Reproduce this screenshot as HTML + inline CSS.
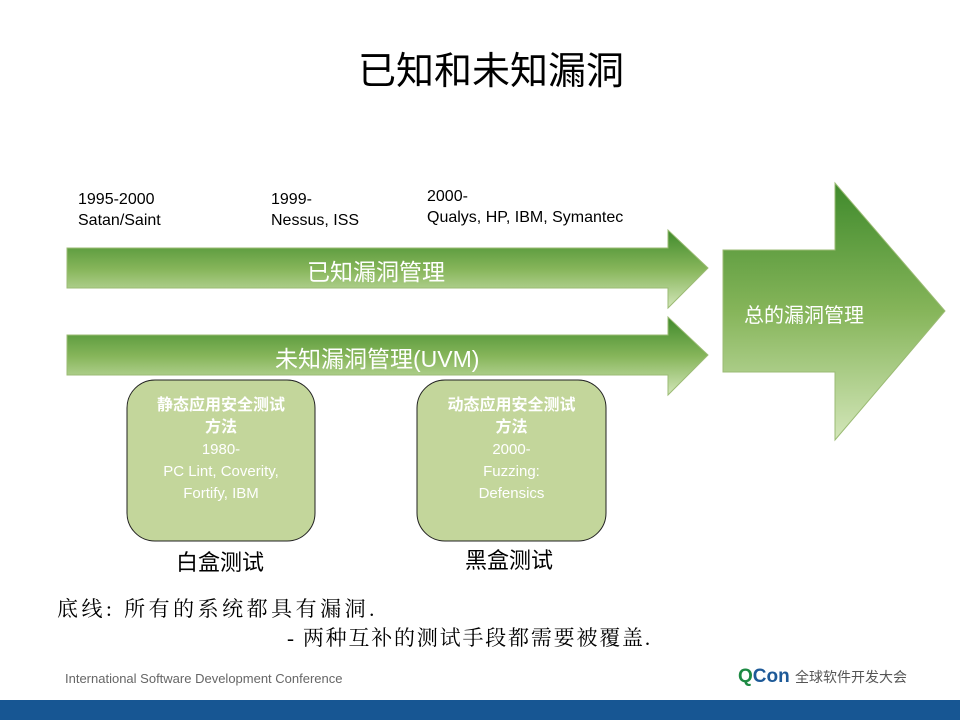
<!DOCTYPE html>
<html><head><meta charset="utf-8"><style>
body{margin:0;width:960px;height:720px;position:relative;background:#fff;font-family:"Liberation Sans","Noto Sans CJK SC",sans-serif;overflow:hidden}
.t{position:absolute;white-space:nowrap}
</style></head><body>
<svg width="960" height="720" style="position:absolute;left:0;top:0">
<defs>
<linearGradient id="g1" x1="0" y1="0" x2="0" y2="1">
<stop offset="0" stop-color="#3f8a2c"/><stop offset="0.5" stop-color="#86b55a"/><stop offset="1" stop-color="#d3e6b9"/></linearGradient>
</defs>
<path d="M67,248 H668 V230 L708,268 L668,308 V288 H67 Z" fill="url(#g1)" stroke="#9bbb74" stroke-width="1"/>
<path d="M67,335 H668 V317 L708,355 L668,395 V375 H67 Z" fill="url(#g1)" stroke="#9bbb74" stroke-width="1"/>
<path d="M723,250 H835 V183 L945,311 L835,440 V372 H723 Z" fill="url(#g1)" stroke="#9bbb74" stroke-width="1"/>
<rect x="127" y="380" width="188" height="161" rx="28" fill="#c3d69b" stroke="#222" stroke-width="1"/>
<rect x="417" y="380" width="189" height="161" rx="28" fill="#c3d69b" stroke="#222" stroke-width="1"/>
<rect x="0" y="700" width="960" height="20" fill="#175693"/>
</svg>
<div class="t" style="left:358px;top:40px;font-size:38px;color:#000">已知和未知漏洞</div>
<div class="t" style="left:78px;top:189px;font-size:16px;line-height:21px">1995-2000<br>Satan/Saint</div>
<div class="t" style="left:271px;top:189px;font-size:16px;line-height:21px">1999-<br>Nessus, ISS</div>
<div class="t" style="left:427px;top:186px;font-size:16px;line-height:21px">2000-<br>Qualys, HP, IBM, Symantec</div>
<div class="t" style="left:307px;top:253px;font-size:23px;color:#fff">已知漏洞管理</div>
<div class="t" style="left:275px;top:340px;font-size:23px;color:#fff">未知漏洞管理(UVM)</div>
<div class="t" style="left:744px;top:299px;font-size:20px;color:#fff">总的漏洞管理</div>
<div class="t" style="left:127px;width:188px;top:395px;text-align:center;font-size:16px;line-height:22px;color:#fff;font-weight:bold">静态应用安全测试<br>方法<br><span style="font-weight:normal;font-size:15px">1980-<br>PC Lint, Coverity,<br>Fortify, IBM</span></div>
<div class="t" style="left:417px;width:189px;top:395px;text-align:center;font-size:16px;line-height:22px;color:#fff;font-weight:bold">动态应用安全测试<br>方法<br><span style="font-weight:normal;font-size:15px">2000-<br>Fuzzing:<br>Defensics</span></div>
<div class="t" style="left:176px;top:545px;font-size:22px">白盒测试</div>
<div class="t" style="left:465px;top:543px;font-size:22px">黑盒测试</div>
<div class="t" style="left:57px;top:593px;font-size:21px;letter-spacing:3.5px;font-family:'Liberation Serif','Noto Serif CJK SC',serif">底线: 所有的系统都具有漏洞.</div>
<div class="t" style="left:287px;top:622px;font-size:21px;letter-spacing:1.8px;font-family:'Liberation Serif','Noto Serif CJK SC',serif">- 两种互补的测试手段都需要被覆盖.</div>
<div class="t" style="left:65px;top:671px;font-size:13px;color:#666">International Software Development Conference</div>
<div class="t" style="left:738px;top:666px;font-size:19px;font-weight:bold;color:#1e5a98"><span style="color:#1d8a43">Q</span>Con <span style="font-size:14px;font-weight:normal;color:#555">全球软件开发大会</span></div>
</body></html>
